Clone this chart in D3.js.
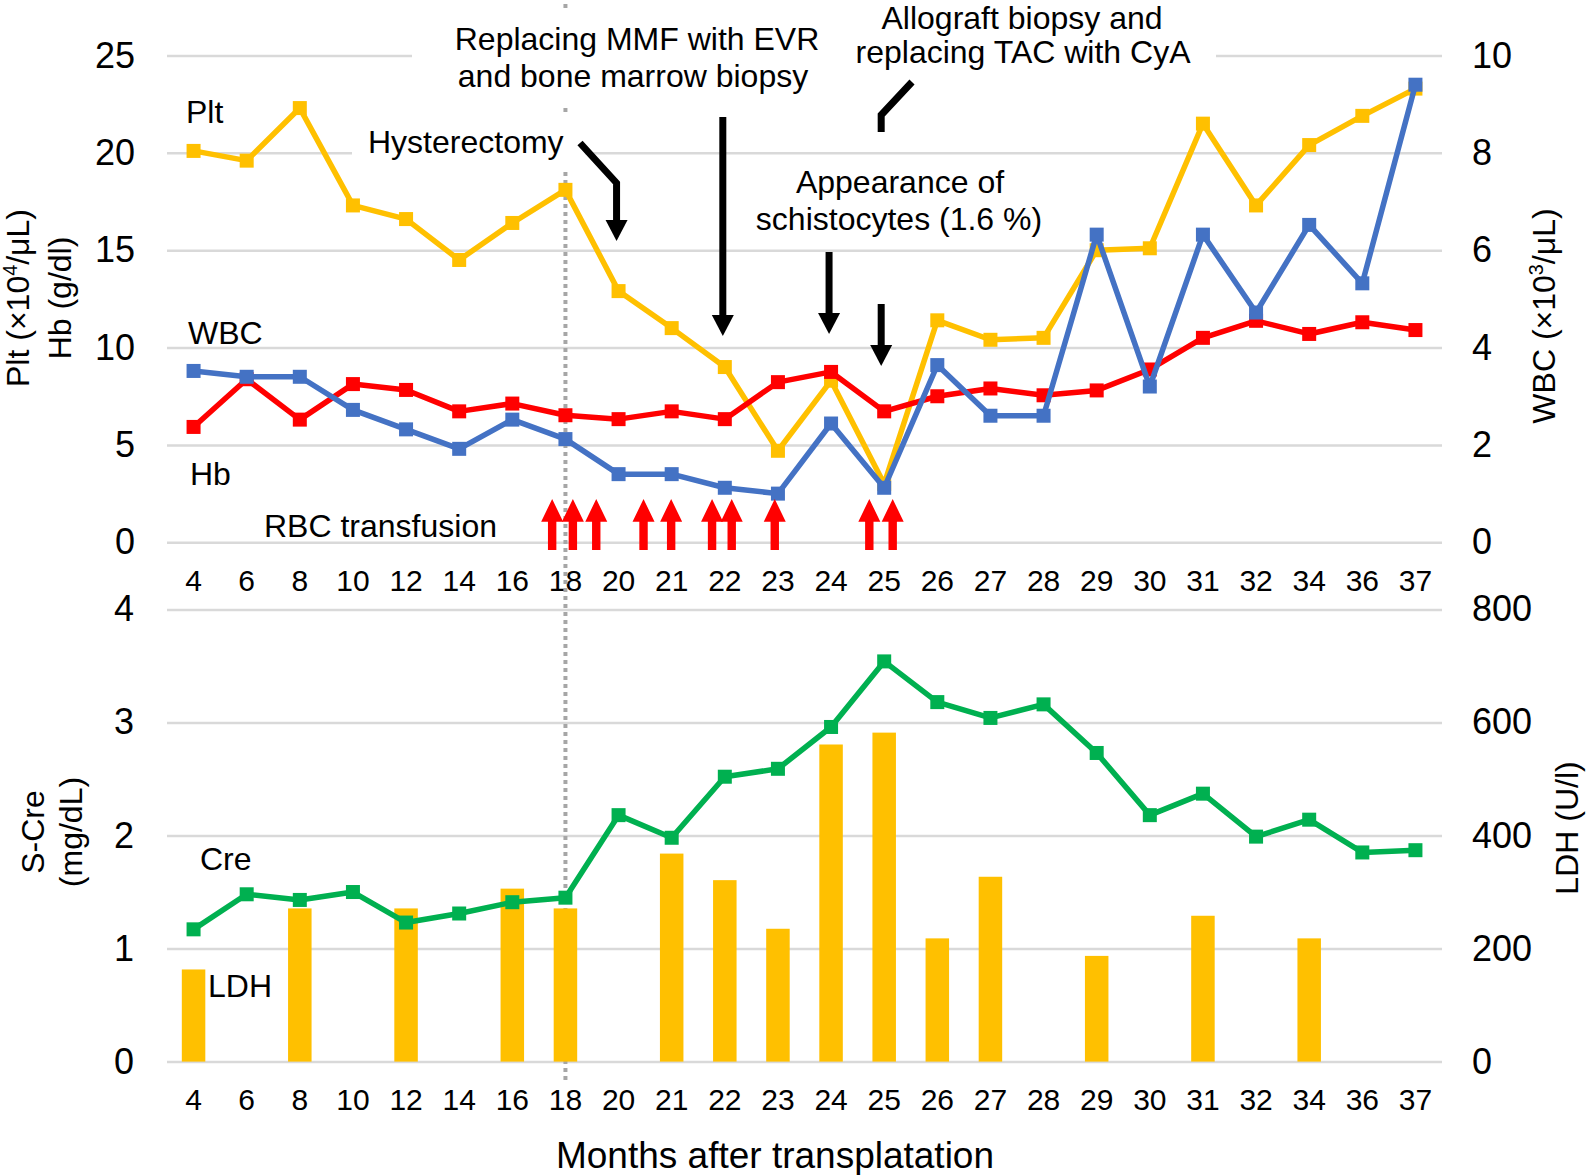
<!DOCTYPE html>
<html><head><meta charset="utf-8">
<script src="https://cdn.jsdelivr.net/npm/d3@7/dist/d3.min.js"></script>
<style>
html,body{margin:0;padding:0;background:#fff;}
text{font-family:"Liberation Sans",Arial,Helvetica,sans-serif;fill:#000;}
</style></head>
<body>
<svg id="chart" width="1588" height="1175"></svg>
<script>
// ---------- DATA ----------
const months = ["4","6","8","10","12","14","16","18","20","21","22","23","24","25","26","27","28","29","30","31","32","34","36","37"];
const plt = [20.1,19.6,22.3,17.3,16.6,14.5,16.4,18.1,12.9,11.0,9.0,4.7,8.3,3.0,11.4,10.4,10.5,15.0,15.1,21.5,17.3,20.4,21.9,23.3];
const hb  = [8.8,8.5,8.5,6.8,5.8,4.8,6.3,5.3,3.5,3.5,2.8,2.5,6.1,2.8,9.1,6.5,6.5,15.8,8.0,15.8,11.8,16.3,13.3,23.5];
const wbc = [2.37,3.35,2.52,3.25,3.13,2.69,2.85,2.61,2.53,2.69,2.53,3.29,3.5,2.69,3.0,3.16,3.02,3.12,3.55,4.2,4.55,4.28,4.52,4.36];
const cre = [1.17,1.48,1.43,1.50,1.23,1.31,1.41,1.45,2.18,1.98,2.52,2.59,2.96,3.54,3.18,3.04,3.16,2.73,2.18,2.37,1.99,2.14,1.85,1.87];
const ldh = [163,null,271,null,271,null,306,271,null,368,321,235,561,582,218,327,null,187,null,258,null,218,null,null];
const topLeftTicks = [0,5,10,15,20,25];
const topRightTicks = [0,2,4,6,8,10];
const botLeftTicks = [0,1,2,3,4];
const botRightTicks = [0,200,400,600,800];
// RBC transfusion events, as fractional category index positions
const transfusionIdx = [6.75,7.14,7.58,8.47,8.99,9.76,10.13,10.94,12.72,13.16];

// ---------- LAYOUT ----------
const svg = d3.select("#chart");
const X0 = 167, X1 = 1442;
const x = d3.scaleBand().domain(months).range([X0, X1]).padding(0);
const cx = m => x(m) + x.bandwidth()/2;
const step = x.step();
const yTL = d3.scaleLinear().domain([0,25]).range([542.3,55.5]);
const yTR = d3.scaleLinear().domain([0,10]).range([542.3,55.5]);
const yBL = d3.scaleLinear().domain([0,4]).range([1061.6,609.4]);
const yBR = d3.scaleLinear().domain([0,800]).range([1061.6,609.4]);
const fmt = d3.format("d");

const GRID = "#d9d9d9";
function styleAxis(g, fs){
  g.select(".domain").remove();
  g.selectAll(".tick line").attr("stroke", GRID).attr("stroke-width", 2.5);
  g.selectAll(".tick text").attr("font-size", fs).attr("fill","#000")
    .style("font-family","'Liberation Sans',Arial,sans-serif");
}
// top panel axes
const gTL = svg.append("g").attr("transform",`translate(${X0},0)`)
  .call(d3.axisLeft(yTL).tickValues(topLeftTicks).tickFormat(fmt).tickSize(-(X1-X0)).tickPadding(32));
styleAxis(gTL, 36);
const gTR = svg.append("g").attr("transform",`translate(${X1},0)`)
  .call(d3.axisRight(yTR).tickValues(topRightTicks).tickFormat(fmt).tickSize(0).tickPadding(30));
styleAxis(gTR, 36);
const gBL = svg.append("g").attr("transform",`translate(${X0},0)`)
  .call(d3.axisLeft(yBL).tickValues(botLeftTicks).tickFormat(fmt).tickSize(-(X1-X0)).tickPadding(33));
styleAxis(gBL, 36);
const gBR = svg.append("g").attr("transform",`translate(${X1},0)`)
  .call(d3.axisRight(yBR).tickValues(botRightTicks).tickFormat(fmt).tickSize(0).tickPadding(30));
styleAxis(gBR, 36);

// x axes
const gXT = svg.append("g").call(d3.axisBottom(x).tickSize(0));
gXT.select(".domain").remove();
gXT.selectAll(".tick text").attr("y",591).attr("dy",0).attr("font-size",30);
const gXB = svg.append("g").call(d3.axisBottom(x).tickSize(0));
gXB.select(".domain").remove();
gXB.selectAll(".tick text").attr("y",1110).attr("dy",0).attr("font-size",30);

// dotted vertical line at 18 months
svg.append("line").attr("x1",cx("18")).attr("x2",cx("18")).attr("y1",4).attr("y2",1083)
  .attr("stroke","#a6a6a6").attr("stroke-width",4).attr("stroke-dasharray","4,4");

// white annotation boxes (cover gridlines / dotted line as in original)
[[412,10,440,97],[840,0,376,75],[352,115,233,57]].forEach(r=>{
  svg.append("rect").attr("x",r[0]).attr("y",r[1]).attr("width",r[2]).attr("height",r[3]).attr("fill","#fff");
});

// ---------- SERIES ----------
function series(vals, yS, color){
  const pts = months.map((m,i)=>({m, v:vals[i]})).filter(d=>d.v!=null);
  svg.append("path").datum(pts)
    .attr("d", d3.line().x(d=>cx(d.m)).y(d=>yS(d.v)))
    .attr("fill","none").attr("stroke",color).attr("stroke-width",5.5).attr("stroke-linejoin","round");
  const s = 14;
  svg.append("g").selectAll("rect").data(pts).join("rect")
    .attr("x",d=>cx(d.m)-s/2).attr("y",d=>yS(d.v)-s/2).attr("width",s).attr("height",s)
    .attr("fill",color);
}
series(plt, yTL, "#FFC000");
series(wbc, yTR, "#FF0000");
series(hb, yTL, "#4472C4");

// LDH bars
const bw = 23.5;
svg.append("g").selectAll("rect").data(months.map((m,i)=>({m,v:ldh[i]})).filter(d=>d.v!=null)).join("rect")
  .attr("x",d=>cx(d.m)-bw/2).attr("y",d=>yBR(d.v)).attr("width",bw).attr("height",d=>yBR(0)-yBR(d.v))
  .attr("fill","#FFC000");
series(cre, yBL, "#00B050");

// ---------- ARROWS ----------
function blackArrow(xp, y1, tip){
  svg.append("line").attr("x1",xp).attr("x2",xp).attr("y1",y1).attr("y2",tip-18)
    .attr("stroke","#000").attr("stroke-width",7);
  svg.append("polygon").attr("points",`${xp},${tip} ${xp-11},${tip-21} ${xp+11},${tip-21}`).attr("fill","#000");
}
// Hysterectomy (bent)
const xh = cx("20")-2;
svg.append("polyline").attr("points",`580,143 ${xh},183 ${xh},222`).attr("fill","none")
  .attr("stroke","#000").attr("stroke-width",7).attr("stroke-linejoin","miter");
svg.append("polygon").attr("points",`${xh},241 ${xh-11},220 ${xh+11},220`).attr("fill","#000");
blackArrow(cx("22")-2, 117, 336);
blackArrow(cx("24")-2, 252, 334);
blackArrow(cx("25")-3, 304, 366);
// Allograft biopsy (partly hidden)
const xa = cx("25")-3;
svg.append("polyline").attr("points",`912,82 ${xa},115 ${xa},132`).attr("fill","none")
  .attr("stroke","#000").attr("stroke-width",7).attr("stroke-linejoin","miter");

// RBC transfusion red arrows
const x0c = cx(months[0]);
svg.append("g").selectAll("polygon").data(transfusionIdx).join("polygon")
  .attr("points", d=>{
    const c = x0c + d*step;
    return [[c,499],[c+11,521.7],[c+4.2,521.7],[c+4.2,550],[c-4.2,550],[c-4.2,521.7],[c-11,521.7]].map(p=>p.join(",")).join(" ");
  }).attr("fill","#FF0000");

// ---------- TEXT ----------
function txt(s, xp, yp, opts={}){
  return svg.append("text").attr("x",xp).attr("y",yp).attr("font-size",opts.fs||32)
    .attr("text-anchor",opts.anchor||"start").text(s);
}
txt("Plt",186,123);
txt("WBC",188,344);
txt("Hb",190,485);
txt("RBC transfusion",264,537);
txt("Hysterectomy",368,153);
txt("Replacing MMF with EVR",637,50,{anchor:"middle"});
txt("and bone marrow biopsy",633,87,{anchor:"middle"});
txt("Allograft biopsy and",1022,29,{anchor:"middle"});
txt("replacing TAC with CyA",1023,63,{anchor:"middle"});
txt("Appearance of",900,193,{anchor:"middle"});
txt("schistocytes (1.6 %)",899,230,{anchor:"middle"});
txt("Cre",200,870);
txt("LDH",208,997);
txt("Months after transplatation",775,1168,{anchor:"middle",fs:37});

// axis titles (rotated)
function rot(xp, yp, parts, fs=32){
  const t = svg.append("text").attr("transform",`translate(${xp},${yp}) rotate(-90)`)
    .attr("text-anchor","middle").attr("font-size",fs);
  parts.forEach(p=>{
    const ts = t.append("tspan").text(p.t);
    if(p.sup){ ts.attr("font-size",fs*0.62).attr("dy",-fs*0.38); }
    if(p.after){ ts.attr("dy",fs*0.38); }
  });
}
rot(29,298,[{t:"Plt (×10"},{t:"4",sup:true},{t:"/μL)",after:true}]);
rot(71,298,[{t:"Hb (g/dl)"}]);
rot(1555,316,[{t:"WBC (×10"},{t:"3",sup:true},{t:"/μL)",after:true}]);
rot(44,832,[{t:"S-Cre"}]);
rot(82,832,[{t:"(mg/dL)"}]);
rot(1578,828,[{t:"LDH (U/l)"}]);
</script>
</body></html>
